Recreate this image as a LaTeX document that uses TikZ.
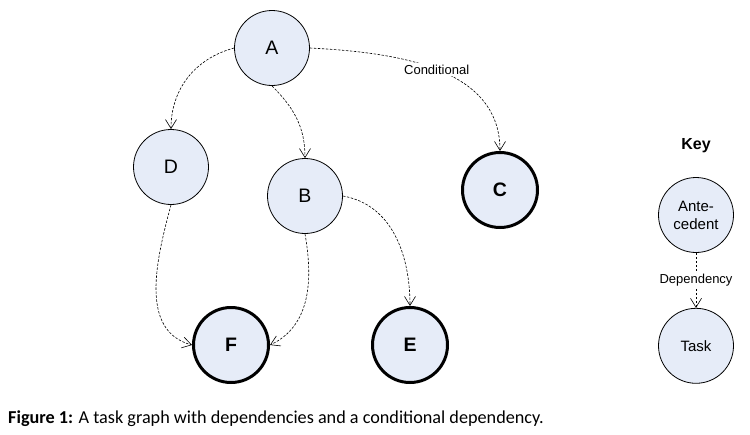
\documentclass[tikz,border=0pt]{standalone}
\usepackage{fontspec}
\setmainfont{Liberation Sans}
\newfontfamily\capfont{Carlito}
\usetikzlibrary{positioning,arrows.meta}
\definecolor{taskfill}{RGB}{230,236,248}
\begin{document}
\begin{tikzpicture}[x=1pt, y=-1pt, node distance={56pt},
  main/.style = {draw, circle, fill=taskfill, minimum size=75pt, inner sep=0pt, line width=0.8pt, font=\fontsize{19.5}{19.5}\selectfont},
  final/.style = {main, line width=3pt, font=\fontsize{19.5}{19.5}\selectfont\bfseries},
  dep/.style = {dash pattern=on 2.5pt off 1.5pt, line width=0.6pt, -{Straight Barb[length=9pt,width=11pt,line width=0.6pt]}},
  lbl/.style = {fill=white, inner sep=1.5pt, font=\fontsize{13}{13}\selectfont}]
			\useasboundingbox (0,0) rectangle (750,434);
			\node[main] (A) at (272,48) {A};
			\node[main] (D) at (171,167) {D};
			\node[main] (B) at (305,196) {B};
			\node[final] (C) at (500,190) {C};
			\node[final] (F) at (231,345) {F};
			\node[final] (E) at (410,345) {E};
			% key
			\node[main, font=\fontsize{15}{18}\selectfont, align=center] (ante) at (696,215) {Ante-\\cedent};
			\node[main, font=\fontsize{15}{18}\selectfont] (task) [below=55pt of ante] {Task};
			\node[font=\fontsize{16}{16}\selectfont\bfseries] (key) [above=21pt of ante] {Key};
			\path
			(A.west) edge[dep, out=195, in=90] (D.north)
			(A.south) edge[dep, out=-45, in=90] (B.north)
			(A.east) edge[dep, out=-3, in=90] node[lbl, pos=0.5] {Conditional} (C.north)
			(D.south) edge[dep, out=-105, in=165] (F.west)
			(B.south) edge[dep, out=-80, in=25] (F.east)
			(B.east) edge[dep, out=-10, in=90] (E.north)
			(ante) edge[dep] node[lbl] {Dependency} (task);
			\node[anchor=west, inner sep=0pt, font=\capfont\fontsize{18.2}{18.2}\selectfont] (caption) at (8,419) {\textbf{Figure 1:} A task graph with dependencies and a conditional dependency.};
		\end{tikzpicture}
\end{document}
